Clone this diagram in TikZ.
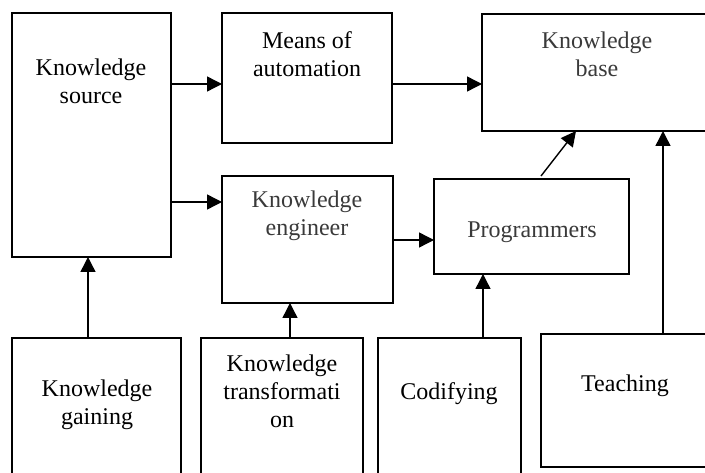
\documentclass[tikz,border=0pt]{standalone}
\usepackage{fontspec}
\setmainfont{Liberation Serif}
\usepackage{xcolor}
\usetikzlibrary{arrows.meta}
\definecolor{softgray}{HTML}{3A3A3A}

\begin{document}
\begin{tikzpicture}[x=1pt, y=-1pt,
  box/.style={draw, line width=1.4pt, inner sep=0pt, outer sep=0pt},
  lbl/.style={align=center, font=\fontsize{24}{28}\selectfont},
  arr/.style={line width=1.4pt, -{Triangle[length=15pt,width=15pt]}}]
  \clip (0,0) rectangle (705,473);

  \node[box, minimum width=159pt, minimum height=244pt] (src) at (91.5,135) {};
  \node[box, minimum width=170pt, minimum height=130pt] (means) at (307,78) {};
  \node[box, minimum width=238pt, minimum height=117pt] (kb) at (601,72.5) {};
  \node[box, minimum width=171pt, minimum height=127pt] (eng) at (307.5,239.5) {};
  \node[box, minimum width=195pt, minimum height=95pt] (prog) at (531.5,226.5) {};
  \node[box, minimum width=169pt, minimum height=152pt] (gain) at (96.5,414) {};
  \node[box, minimum width=162pt, minimum height=152pt] (trans) at (282,414) {};
  \node[box, minimum width=143pt, minimum height=152pt] (cod) at (449.5,414) {};
  \node[box, minimum width=179pt, minimum height=133pt] (teach) at (630.5,400.5) {};

  \node[lbl] at (91,81) {Knowledge\\source};
  \node[lbl] at (307,54) {Means of\\automation};
  \node[lbl, text=softgray] at (597,54) {Knowledge\\base};
  \node[lbl, text=softgray] at (307,216) {Knowledge\\engineer};
  \node[lbl, text=softgray] at (532,232) {Programmers};
  \node[lbl] at (97,405) {Knowledge\\gaining};
  \node[lbl] at (282,391) {Knowledge\\transformati\\on};
  \node[lbl] at (449,394) {Codifying};
  \node[lbl] at (625,386) {Teaching};

  \draw[arr] (src.east |- 0,84) -- (means.west |- 0,84);
  \draw[arr] (means.east |- 0,84) -- (kb.west |- 0,84);
  \draw[arr] (src.east |- 0,202) -- (eng.west |- 0,202);
  \draw[arr] (eng.east |- 0,240) -- (prog.west |- 0,240);
  \draw[arr] ([xshift=9.5pt, yshift=3pt]prog.north) -- ([xshift=-25pt]kb.south);
  \draw[arr] (teach.north -| 663,0) -- (kb.south -| 663,0);
  \draw[arr] (cod.north -| 483,0) -- (prog.south -| 483,0);
  \draw[arr] (trans.north -| 290,0) -- (eng.south -| 290,0);
  \draw[arr] (gain.north -| 88,0) -- (src.south -| 88,0);
\end{tikzpicture}
\end{document}
